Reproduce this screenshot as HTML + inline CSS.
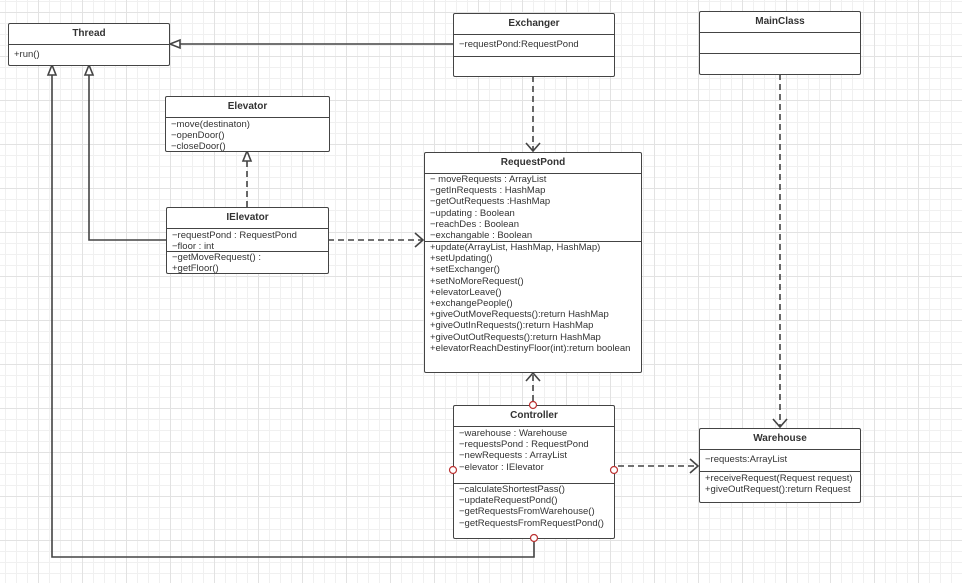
<!DOCTYPE html>
<html><head><meta charset="utf-8"><style>
html,body{margin:0;padding:0;}
body{width:962px;height:583px;overflow:hidden;background:#fff;position:relative;
background-image:
linear-gradient(to right,#e2e2e2 1px,transparent 1px),
linear-gradient(to bottom,#e2e2e2 1px,transparent 1px),
linear-gradient(to right,#f0f0f0 1px,transparent 1px),
linear-gradient(to bottom,#f0f0f0 1px,transparent 1px);
background-size:44px 44px,44px 44px,11px 11px,11px 11px;
background-position:38px 12px,38px 12px,5px 1px,5px 1px;
font-family:"Liberation Sans",sans-serif;color:#333;}
.c{position:absolute;background:#fff;border:1.5px solid #444;border-radius:2px;box-sizing:border-box;font-size:9.5px;}
.h{font-weight:bold;text-align:center;border-bottom:1.5px solid #444;box-sizing:border-box;font-size:10px;}
.s{border-bottom:1.5px solid #444;box-sizing:border-box;padding-left:5px;line-height:11.2px;white-space:nowrap;}
.m{padding-left:5px;line-height:11.2px;white-space:nowrap;}
svg{position:absolute;left:0;top:0;}
</style></head><body>
<svg width="962" height="583">
<g stroke="#444" stroke-width="1.6" fill="none">
<line x1="453" y1="44" x2="180" y2="44"/>
<polyline points="52,75 52,557 534,557 534,542"/>
<polyline points="89,75 89,240 166,240"/>
<g stroke-dasharray="6,4">
<line x1="247" y1="207" x2="247" y2="161"/>
<line x1="328" y1="240" x2="422" y2="240"/>
<line x1="533" y1="76" x2="533" y2="150"/>
<line x1="533" y1="401" x2="533" y2="374"/>
<line x1="618" y1="466" x2="697" y2="466"/>
<line x1="780" y1="74" x2="780" y2="426"/>
</g>
<polygon points="170,44 180,40 180,48" fill="#fff"/>
<polygon points="52,65 48,75 56,75" fill="#fff"/>
<polygon points="89,65 85,75 93,75" fill="#fff"/>
<polygon points="247,151 243,161 251,161" fill="#fff"/>
<polyline points="415,233 423,240 415,247"/>
<polyline points="526,143 533,151 540,143"/>
<polyline points="526,381 533,373 540,381"/>
<polyline points="690,459 698,466 690,473"/>
<polyline points="773,419 780,427 787,419"/>
</g>
</svg>
<div class="c" style="left:8px;top:23px;width:162px;height:43px"><div class="h" style="height:21px;line-height:20px">Thread</div><div class="m" style="line-height:20px">+run()</div></div>
<div class="c" style="left:453px;top:13px;width:162px;height:64px"><div class="h" style="height:21px;line-height:20px">Exchanger</div><div class="s" style="height:22px;line-height:20px">−requestPond:RequestPond</div></div>
<div class="c" style="left:699px;top:11px;width:162px;height:64px"><div class="h" style="height:21px;line-height:20px">MainClass</div><div class="s" style="height:21px"></div></div>
<div class="c" style="left:165px;top:96px;width:165px;height:56px"><div class="h" style="height:21px;line-height:20px">Elevator</div><div class="m" style="padding-top:1px">−move(destinaton)<br>−openDoor()<br>−closeDoor()</div></div>
<div class="c" style="left:166px;top:207px;width:163px;height:67px"><div class="h" style="height:21px;line-height:20px">IElevator</div><div class="s" style="height:23px;padding-top:1px">−requestPond : RequestPond<br>−floor : int</div><div class="m">−getMoveRequest() :<br>+getFloor()</div></div>
<div class="c" style="left:424px;top:152px;width:218px;height:221px"><div class="h" style="height:21px;line-height:20px">RequestPond</div><div class="s" style="height:68px;padding-top:0">− moveRequests : ArrayList<br>−getInRequests : HashMap<br>−getOutRequests :HashMap<br>−updating : Boolean<br>−reachDes : Boolean<br>−exchangable : Boolean</div><div class="m">+update(ArrayList, HashMap, HashMap)<br>+setUpdating()<br>+setExchanger()<br>+setNoMoreRequest()<br>+elevatorLeave()<br>+exchangePeople()<br>+giveOutMoveRequests():return HashMap<br>+giveOutInRequests():return HashMap<br>+giveOutOutRequests():return HashMap<br>+elevatorReachDestinyFloor(int):return boolean</div></div>
<div class="c" style="left:453px;top:405px;width:162px;height:134px"><div class="h" style="height:21px;line-height:20px">Controller</div><div class="s" style="height:57px;padding-top:1px">−warehouse : Warehouse<br>−requestsPond : RequestPond<br>−newRequests : ArrayList<br>−elevator : IElevator</div><div class="m">−calculateShortestPass()<br>−updateRequestPond()<br>−getRequestsFromWarehouse()<br>−getRequestsFromRequestPond()</div></div>
<div class="c" style="left:699px;top:428px;width:162px;height:75px"><div class="h" style="height:21px;line-height:20px">Warehouse</div><div class="s" style="height:22px;line-height:20px">−requests:ArrayList</div><div class="m" style="padding-top:1px">+receiveRequest(Request request)<br>+giveOutRequest():return Request</div></div>
<svg width="962" height="583">
<g stroke="#b33" stroke-width="1.2" fill="#fff">
<circle cx="533" cy="405" r="3.5"/>
<circle cx="614" cy="470" r="3.5"/>
<circle cx="453" cy="470" r="3.5"/>
<circle cx="534" cy="538" r="3.5"/>
</g>
</svg>
</body></html>
